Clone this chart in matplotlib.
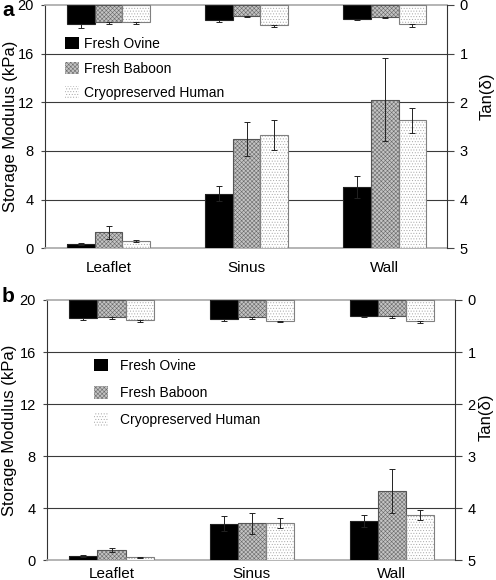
import matplotlib
matplotlib.use("Agg")
import matplotlib.pyplot as plt
from matplotlib.patches import Patch
import numpy as np

plt.rcParams['font.family'] = ['Liberation Sans', 'DejaVu Sans']
plt.rcParams['hatch.linewidth'] = 0.4

categories = ['Leaflet', 'Sinus', 'Wall']
groups = ['Fresh Ovine', 'Fresh Baboon', 'Cryopreserved Human']

# panel a
a_mod = [[0.35, 4.5, 5.0], [1.3, 9.0, 12.2], [0.6, 9.3, 10.5]]
a_mod_err = [[0.05, 0.6, 0.9], [0.5, 1.4, 3.4], [0.05, 1.2, 1.0]]
a_tan = [[0.39, 0.32, 0.29], [0.36, 0.22, 0.25], [0.36, 0.41, 0.40]]
a_tan_err = [[0.09, 0.04, 0.02], [0.04, 0.02, 0.02], [0.04, 0.04, 0.05]]

# panel b
b_mod = [[0.33, 2.82, 3.02], [0.82, 2.85, 5.33], [0.23, 2.85, 3.46]]
b_mod_err = [[0.05, 0.55, 0.45], [0.15, 0.8, 1.67], [0.03, 0.4, 0.4]]
b_tan = [[0.35, 0.37, 0.30], [0.33, 0.33, 0.30], [0.38, 0.40, 0.40]]
b_tan_err = [[0.03, 0.03, 0.02], [0.03, 0.04, 0.04], [0.04, 0.03, 0.04]]

face = ['#000000', '#c4c4c4', '#ffffff']
hatches = [None, 'xxxxxxxx', '......']
hcolor = ['#000000', '#6a6a6a', '#a8a8a8']
edge = ['#222222', '#555555', '#808080']
w = 0.2
x = np.arange(len(categories))


def draw_bars(ax, vals, errs, one_sided):
    for i in range(3):
        pos = x + (i - 1) * w
        ax.bar(pos, vals[i], w, color=face[i], hatch=hatches[i],
               edgecolor=hcolor[i], linewidth=0, zorder=3)
        ax.bar(pos, vals[i], w, fill=False, edgecolor=edge[i],
               linewidth=0.8, zorder=4)
        yerr = [[0] * 3, errs[i]] if one_sided else errs[i]
        ax.errorbar(pos, vals[i], yerr=yerr, fmt='none', ecolor='#222222',
                    elinewidth=0.7, capsize=2, capthick=0.7, zorder=5)


def panel(rect, mod, mod_err, tan, tan_err, letter, letter_y, leg_anchor,
          textpad, lspace, xpad, ylab_x, tan_x, tan_y):
    ax = fig.add_axes(rect)
    draw_bars(ax, mod, mod_err, False)
    ax.set_ylim(0, 20)
    ax.set_xlim(-0.46, 2.45)
    ax.set_yticks([0, 4, 8, 12, 16, 20])
    for yv in [4, 8, 12, 16]:
        ax.axhline(yv, color='#3a3a3a', lw=0.8, zorder=1)
    ax.set_xticks(x)
    ax.set_xticklabels(categories, fontsize=11)
    ax.tick_params(axis='x', length=0, pad=xpad)
    ax.tick_params(axis='y', length=3, width=0.8, color='#444444',
                   labelsize=10.5, pad=5)
    ax.set_ylabel('Storage Modulus (kPa)', fontsize=12, va='center')
    ax.yaxis.set_label_coords(ylab_x, 0.5)
    for s in ['top', 'bottom']:
        ax.spines[s].set_color('#a8a8a8')
        ax.spines[s].set_linewidth(1.2)
    ax.spines['left'].set_color('#333333')
    ax.spines['right'].set_visible(False)

    ax2 = ax.twinx()
    draw_bars(ax2, tan, tan_err, True)
    ax2.set_ylim(5, 0)
    ax2.set_yticks([0, 1, 2, 3, 4, 5])
    ax2.tick_params(axis='y', length=5, width=0.8, color='#444444',
                    labelsize=10.5, pad=4)
    ax2.set_ylabel('Tan(δ)', fontsize=12, va='center')
    ax2.yaxis.set_label_coords(tan_x, tan_y)
    for s in ['top', 'bottom', 'left']:
        ax2.spines[s].set_visible(False)
    ax2.spines['right'].set_color('#333333')

    handles = [Patch(facecolor=face[i], hatch=hatches[i], edgecolor=hcolor[i],
                     linewidth=0) for i in range(3)]
    fig.legend(handles, groups, loc='upper left', bbox_to_anchor=leg_anchor,
               frameon=False, fontsize=10, handlelength=1.0, handleheight=1.0,
               handletextpad=textpad, labelspacing=lspace, borderpad=0,
               borderaxespad=0)
    fig.text(0.004, letter_y, letter, fontsize=15, fontweight='bold',
             va='center', ha='left')


fig = plt.figure(figsize=(4.96, 5.8), dpi=100)
panel([0.0907, 0.5719, 0.8105, 0.4198], a_mod, a_mod_err, a_tan, a_tan_err,
      'a', 1 - 11 / 580, (65 / 496, 1 - 37 / 580), 0.4, 0.76, 9,
      -0.087, 1.1, 0.625)
panel([0.0948, 0.034, 0.8226, 0.4488], b_mod, b_mod_err, b_tan, b_tan_err,
      'b', 1 - 297 / 580, (94 / 496, 1 - 359 / 580), 0.9, 0.95, 5,
      -0.091, 1.076, 0.55)

fig.savefig('out.png', dpi=100)
